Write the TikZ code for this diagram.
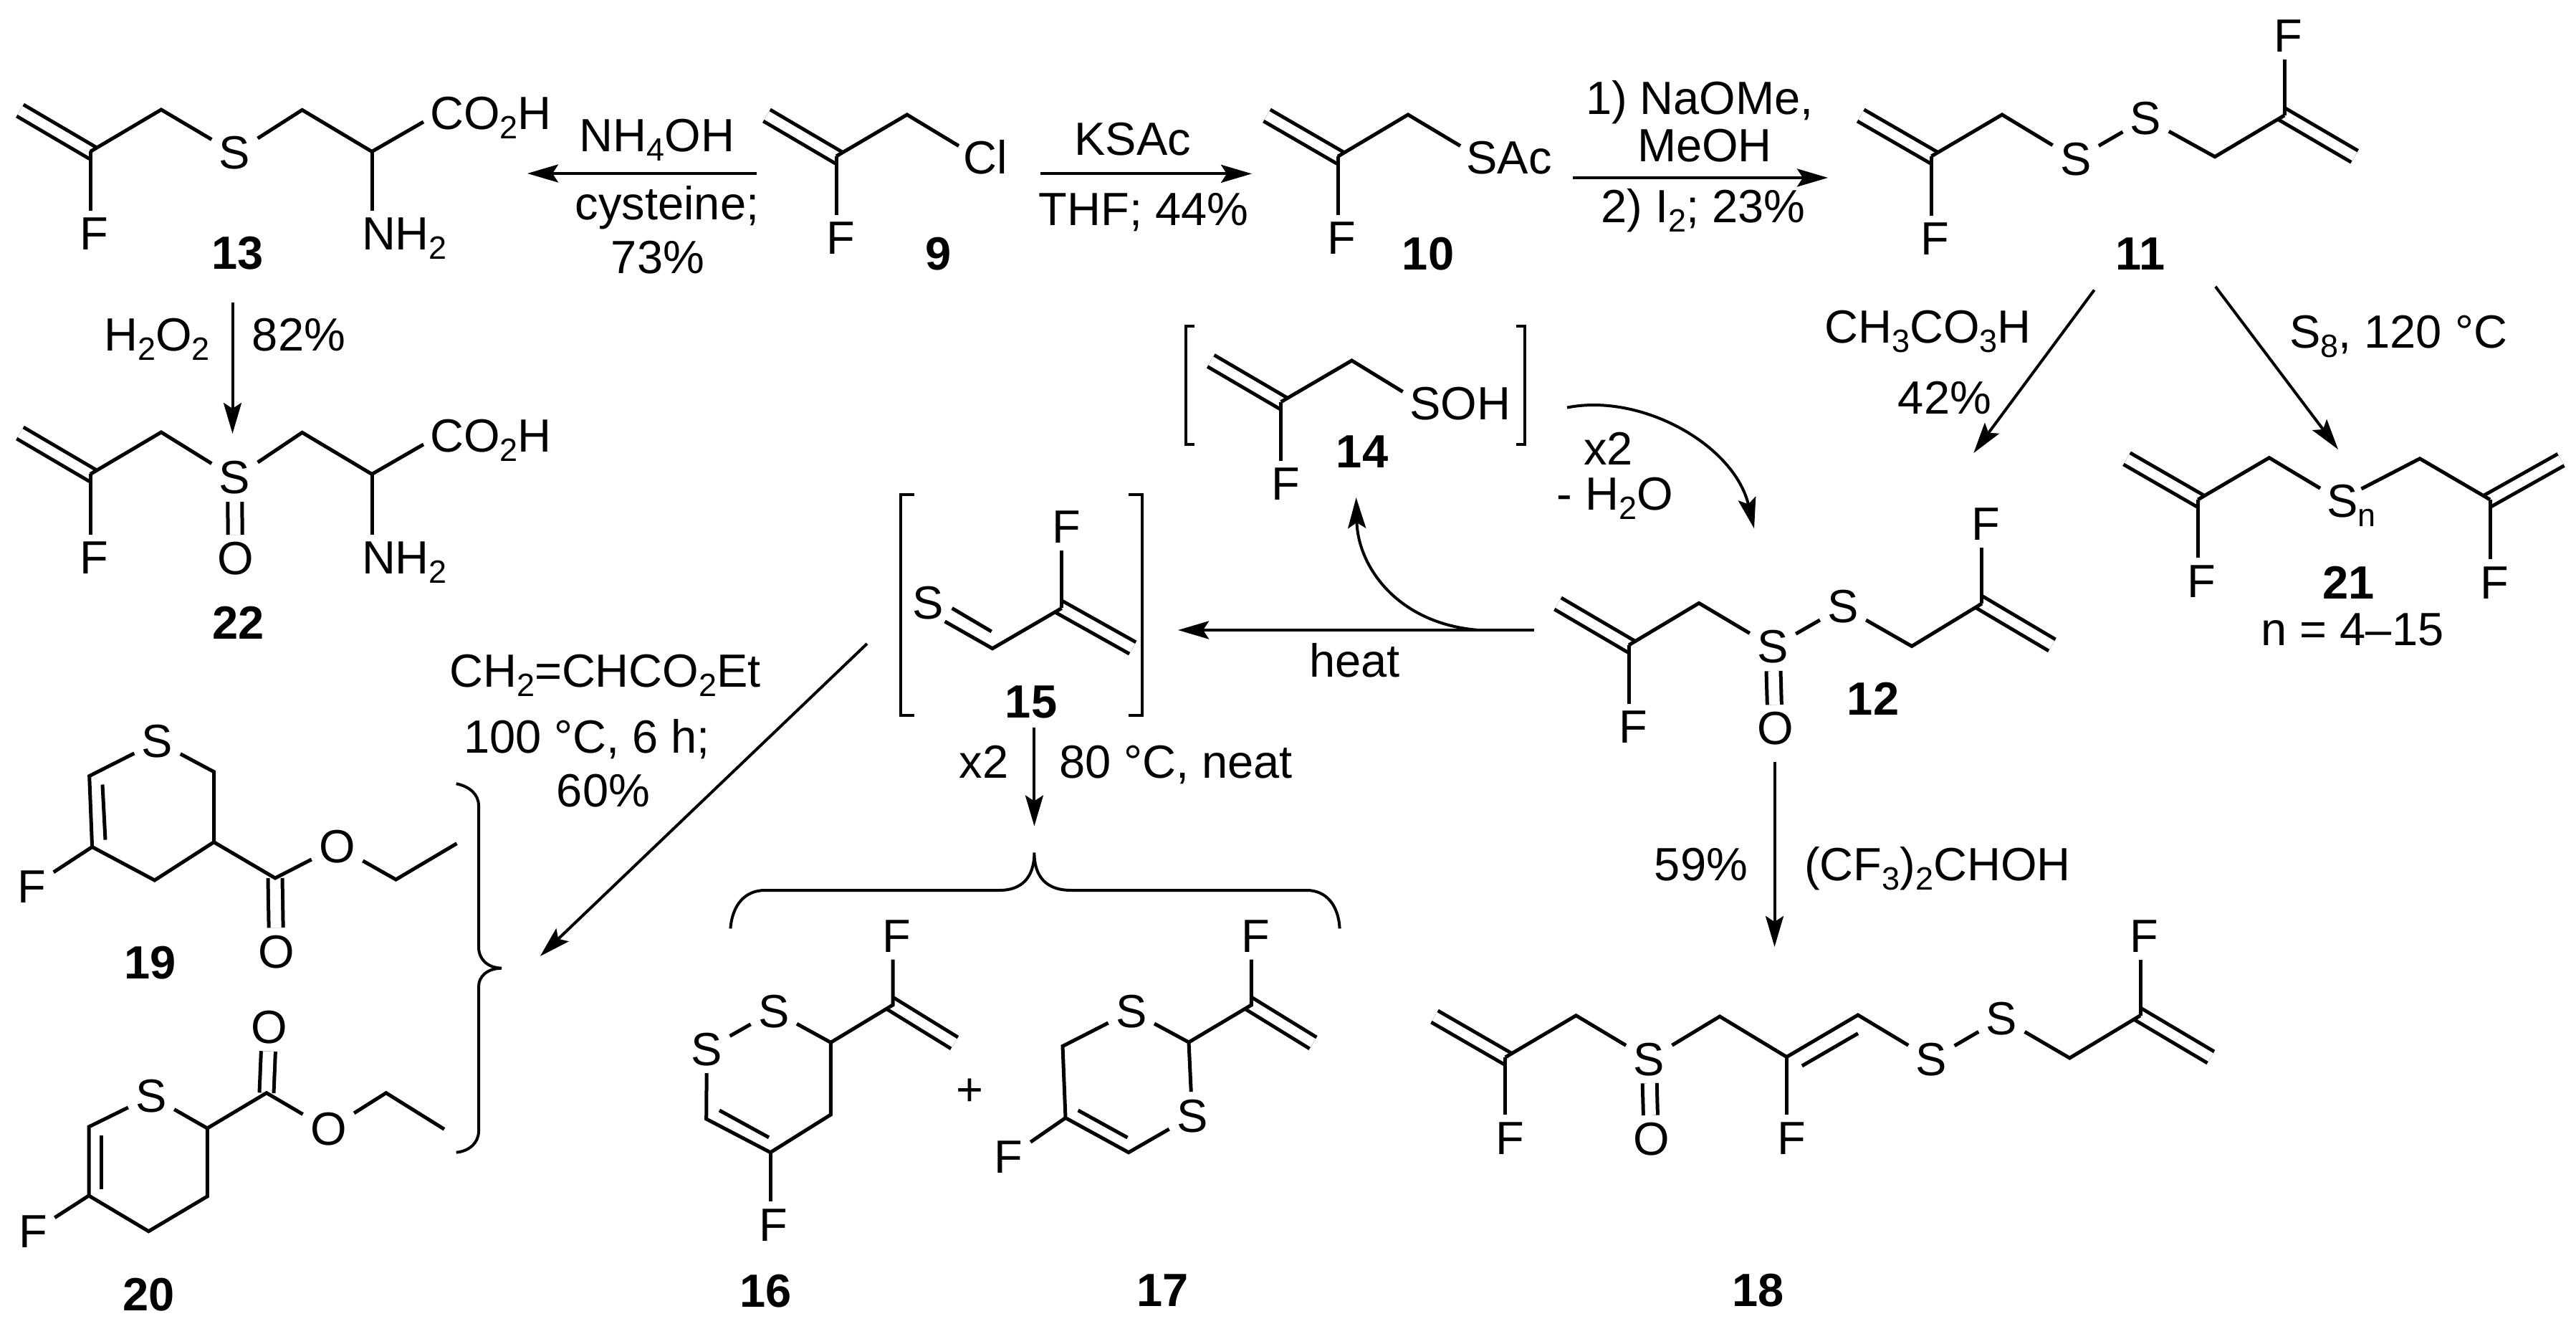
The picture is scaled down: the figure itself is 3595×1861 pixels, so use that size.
\documentclass[tikz,border=0pt]{standalone}
\usepackage{fontspec}
\setmainfont{Liberation Sans}
\usetikzlibrary{arrows.meta}
\newcommand{\chemsub}[1]{\raisebox{-0.2em}{\fontsize{9}{10}\selectfont #1}}
\tikzset{
  atom/.style={anchor=base,inner sep=1.6pt,font=\fontsize{13}{15}\selectfont},
  cmpd/.style={atom,font=\fontsize{13}{15}\selectfont\bfseries},
  dbl/.style={double,double distance=3pt},
  vinyl/.style={double,double distance=2.7pt,shorten >=-0.8pt},
  rxn/.style={line width=0.8pt,-{Stealth[length=8.6pt,width=5pt,inset=1.6pt]}},
  fence/.style={line width=0.8pt}
}
\begin{document}
\begin{tikzpicture}[x=0.2pt,y=-0.2pt,line width=1pt]
\useasboundingbox (0,0) rectangle (3595,1861);

\coordinate (e13) at (28,154); \coordinate (v13) at (126,211.5); \coordinate (a13) at (225,153);
\coordinate (b13) at (421.7,153.4); \coordinate (c13) at (519,211.5); \coordinate (k13) at (591,170);
\node[atom] (s13) at (327.5,236) {S};
\node[atom] (f13) at (131.6,349) {F};
\node[atom] (n13) at (564.5,349) {NH\chemsub{2}};
\node[atom] (h13) at (685,181) {CO\chemsub{2}H};
\node[cmpd] (l13) at (332,376) {13};
\draw[vinyl] (e13) -- (v13);
\draw (v13) -- (a13) -- (s13) -- (b13) -- (c13) -- (k13);
\draw (v13) -- (v13 |- f13.north);
\draw (c13) -- (c13 |- n13.north);

\coordinate (e22) at (28,604); \coordinate (v22) at (126,661.5); \coordinate (a22) at (225,603);
\coordinate (b22) at (421.7,603.4); \coordinate (c22) at (519,661.5); \coordinate (k22) at (591,620);
\node[atom] (s22) at (327.5,689) {S};
\node[atom] (o22) at (328.5,802) {O};
\node[atom] (f22) at (131.6,801) {F};
\node[atom] (n22) at (564.5,801) {NH\chemsub{2}};
\node[atom] (h22) at (685,631) {CO\chemsub{2}H};
\node[cmpd] (l22) at (332.5,892) {22};
\draw[vinyl] (e22) -- (v22);
\draw[dbl] (s22) -- (o22);
\draw (v22) -- (a22) -- (s22) -- (b22) -- (c22) -- (k22);
\draw (v22) -- (v22 |- f22.north);
\draw (c22) -- (c22 |- n22.north);

\coordinate (e9) at (1070,161); \coordinate (v9) at (1167,218); \coordinate (a9) at (1265.8,160); \coordinate (k9) at (1338,203.6);
\node[atom] (f9) at (1173,355) {F};
\node[atom] (h9) at (1375,242.4) {Cl};
\node[cmpd] (l9) at (1309.4,376.5) {9};
\draw[vinyl] (e9) -- (v9);
\draw (v9) -- (a9) -- (k9);
\draw (v9) -- (v9 |- f9.north);

\coordinate (e10) at (1768,161); \coordinate (v10) at (1867,218.3); \coordinate (a10) at (1965,160); \coordinate (k10) at (2038,203.6);
\node[atom] (f10) at (1872.5,355) {F};
\node[atom] (h10) at (2106,242.4) {SAc};
\node[cmpd] (l10) at (1993,376.5) {10};
\draw[vinyl] (e10) -- (v10);
\draw (v10) -- (a10) -- (k10);
\draw (v10) -- (v10 |- f10.north);

\coordinate (e11) at (2596.7,161); \coordinate (v11) at (2695.4,218); \coordinate (a11) at (2794,160);
\coordinate (b11) at (3091,218.7); \coordinate (w11) at (3188,161); \coordinate (d11) at (3286,218.3);
\node[atom] (s11) at (2896.7,244.4) {S};
\node[atom] (t11) at (2994.6,187.8) {S};
\node[atom] (f11) at (2700.8,356) {F};
\node[atom] (g11) at (3193,72.4) {F};
\node[cmpd] (l11) at (2987,376.4) {11};
\draw[vinyl] (e11) -- (v11);
\draw[vinyl] (d11) -- (w11);
\draw (v11) -- (a11) -- (s11) -- (t11) -- (b11) -- (w11);
\draw (v11) -- (v11 |- f11.north);
\draw (w11) -- (w11 |- g11.south);

\coordinate (e21) at (2968,639.8); \coordinate (v21) at (3067.3,697); \coordinate (a21) at (3166.8,638.6); \coordinate (k21) at (3238,681.3);
\coordinate (j21) at (3295.4,682); \coordinate (b21) at (3377,639.8); \coordinate (w21) at (3475,697); \coordinate (d21) at (3574,641.4);
\node[atom] (s21) at (3281.6,721.6) {S\chemsub{n}};
\node[atom] (f21) at (3072,833.5) {F};
\node[atom] (g21) at (3481.4,835.5) {F};
\node[cmpd] (l21) at (3277.8,835.5) {21};
\node[atom] (m21) at (3283,900.7) {n = 4–15};
\draw[vinyl] (e21) -- (v21);
\draw[vinyl] (d21) -- (w21);
\draw (v21) -- (a21) -- (k21);
\draw (j21) -- (b21) -- (w21);
\draw (v21) -- (v21 |- f21.north);
\draw (w21) -- (w21 |- g21.north);

\coordinate (e14) at (1689.8,503.4); \coordinate (v14) at (1787.7,560.7); \coordinate (a14) at (1886.5,503); \coordinate (k14) at (1957.6,546.5);
\node[atom] (f14) at (1794,698) {F};
\node[atom] (h14) at (2038,586) {SOH};
\node[cmpd] (l14) at (1901,652.8) {14};
\draw[vinyl] (e14) -- (v14);
\draw (v14) -- (a14) -- (k14);
\draw (v14) -- (v14 |- f14.north);
\draw[fence] (1667,455.5) -- (1655.3,455.5) -- (1655.3,620) -- (1667,620);
\draw[fence] (2116,455.5) -- (2127.6,455.5) -- (2127.6,620) -- (2116,620);

\coordinate (e12) at (2174,842); \coordinate (v12) at (2273,900); \coordinate (a12) at (2371,841.4);
\coordinate (b12) at (2668,901.5); \coordinate (w12) at (2765.8,842); \coordinate (d12) at (2863.8,900);
\node[atom] (s12) at (2474,925) {S};
\node[atom] (o12) at (2477.3,1039) {O};
\node[atom] (t12) at (2572,869) {S};
\node[atom] (f12) at (2279.8,1037) {F};
\node[atom] (g12) at (2771,753.6) {F};
\node[cmpd] (l12) at (2614,997.6) {12};
\draw[vinyl] (e12) -- (v12);
\draw[vinyl] (d12) -- (w12);
\draw[dbl] (s12) -- (o12);
\draw (v12) -- (a12) -- (s12) -- (t12) -- (b12) -- (w12);
\draw (v12) -- (v12 |- f12.north);
\draw (w12) -- (w12 |- g12.south);

\coordinate (e15) at (1580.7,904); \coordinate (v15) at (1481.6,848.5); \coordinate (c15) at (1385,904.7); \coordinate (j15) at (1318.6,867);
\coordinate (p15) at (1328.6,848.5); \coordinate (q15) at (1383.7,881);
\node[atom] (s15) at (1295,864) {S};
\node[atom] (f15) at (1488,758) {F};
\node[cmpd] (l15) at (1439,1001.6) {15};
\draw[vinyl] (e15) -- (v15);
\draw (v15) -- (c15) -- (j15);
\draw (p15) -- (q15);
\draw (v15) -- (v15 |- f15.south);
\draw[fence] (1276,690) -- (1257.4,690) -- (1257.4,997.6) -- (1276,997.6);
\draw[fence] (1575,690) -- (1594,690) -- (1594,997.6) -- (1575,997.6);

\coordinate (h19) at (124.7,1082.6); \coordinate (g19) at (128.6,1181.5); \coordinate (u19) at (215.8,1228);
\coordinate (c19) at (298.5,1174.8); \coordinate (r19) at (298.5,1076.7); \coordinate (q19) at (384,1225);
\coordinate (m19) at (552.5,1227); \coordinate (n19) at (637.5,1176.7);
\coordinate (p19) at (143,1094.5); \coordinate (i19) at (147,1171.6);
\node[atom] (s19) at (219.6,1057) {S};
\node[atom] (f19) at (44.4,1259) {F};
\node[atom] (o19) at (385.7,1350) {O};
\node[atom] (x19) at (470.6,1203) {O};
\node[cmpd] (l19) at (209.7,1365.7) {19};
\draw[dbl] (q19) -- (o19);
\draw (s19) -- (h19) -- (g19) -- (u19) -- (c19) -- (r19) -- (s19);
\draw (p19) -- (i19);
\draw (f19) -- (g19);
\draw (c19) -- (q19) -- (x19) -- (m19) -- (n19);

\coordinate (h20) at (124,1572); \coordinate (g20) at (124,1668); \coordinate (u20) at (207.4,1717.7);
\coordinate (r20) at (289.3,1669); \coordinate (c20) at (289.3,1574); \coordinate (q20) at (372,1524.7);
\coordinate (m20) at (538.8,1524.7); \coordinate (n20) at (620,1575.3);
\coordinate (p20) at (141.6,1584); \coordinate (i20) at (141.6,1659);
\node[atom] (s20) at (211,1551.6) {S};
\node[atom] (f20) at (46,1740.6) {F};
\node[atom] (o20) at (375.8,1455.5) {O};
\node[atom] (x20) at (458.4,1597.8) {O};
\node[cmpd] (l20) at (207.8,1828) {20};
\draw[dbl] (q20) -- (o20);
\draw (s20) -- (h20) -- (g20) -- (u20) -- (r20) -- (c20) -- (s20);
\draw (p20) -- (i20);
\draw (f20) -- (g20);
\draw (c20) -- (q20) -- (x20) -- (m20) -- (n20);

\coordinate (c16) at (1159.4,1454.3); \coordinate (w16) at (1246,1402); \coordinate (d16) at (1332,1455);
\coordinate (u16) at (1159.4,1555); \coordinate (g16) at (1075.2,1607.7); \coordinate (h16) at (985.7,1561);
\coordinate (p16) at (1004,1549); \coordinate (i16) at (1073,1586.8);
\node[atom] (s16) at (986.4,1486) {S};
\node[atom] (t16) at (1079.8,1433) {S};
\node[atom] (f16) at (1251.7,1328) {F};
\node[atom] (k16) at (1079.8,1731.5) {F};
\node[cmpd] (l16) at (1068.3,1823) {16};
\draw[vinyl] (d16) -- (w16);
\draw (s16) -- (t16) -- (c16) -- (u16) -- (g16) -- (h16) -- (s16);
\draw (p16) -- (i16);
\draw (c16) -- (w16) -- (w16 |- f16.south);
\draw (g16) -- (g16 |- k16.north);

\node[atom] (plus) at (1353,1542) {+};

\coordinate (c17) at (1659,1454); \coordinate (w17) at (1746.4,1402); \coordinate (d17) at (1832.5,1455);
\coordinate (r17) at (1483,1459.5); \coordinate (g17) at (1487,1559.5); \coordinate (h17) at (1575,1607.7);
\coordinate (p17) at (1504.6,1549); \coordinate (i17) at (1573.5,1587);
\node[atom] (s17) at (1578.8,1433) {S};
\node[atom] (t17) at (1663.8,1579) {S};
\node[atom] (f17) at (1752,1328) {F};
\node[atom] (k17) at (1407.8,1636.6) {F};
\node[cmpd] (l17) at (1622.8,1822) {17};
\draw[vinyl] (d17) -- (w17);
\draw (s17) -- (c17) -- (t17) -- (h17) -- (g17) -- (r17) -- (s17);
\draw (p17) -- (i17);
\draw (c17) -- (w17) -- (w17 |- f17.south);
\draw (k17) -- (g17);

\coordinate (e18) at (2002,1418); \coordinate (v18) at (2100.7,1475); \coordinate (a18) at (2199.5,1416.7);
\coordinate (b18) at (2400,1418); \coordinate (g18) at (2493.4,1474.5); \coordinate (h18) at (2592.9,1416);
\coordinate (p18) at (2514.8,1487); \coordinate (i18) at (2592.9,1441.7);
\coordinate (r18) at (2888.3,1476); \coordinate (w18) at (2987,1416.7); \coordinate (d18) at (3085.3,1475);
\node[atom] (s18) at (2301.3,1500) {S};
\node[atom] (o18) at (2304.3,1611.7) {O};
\node[atom] (t18) at (2695.4,1500) {S};
\node[atom] (y18) at (2793.4,1443) {S};
\node[atom] (f18) at (2107,1610.5) {F};
\node[atom] (k18) at (2499.9,1610.5) {F};
\node[atom] (z18) at (2992.3,1328) {F};
\node[cmpd] (l18) at (2453.6,1822) {18};
\draw[vinyl] (e18) -- (v18);
\draw[vinyl] (d18) -- (w18);
\draw[dbl] (s18) -- (o18);
\draw (v18) -- (a18) -- (s18) -- (b18) -- (g18) -- (h18) -- (t18) -- (y18) -- (r18) -- (w18);
\draw (p18) -- (i18);
\draw (v18) -- (v18 |- f18.north);
\draw (g18) -- (g18 |- k18.north);
\draw (w18) -- (w18 |- z18.south);

\coordinate (r1a) at (1056,242); \coordinate (r1b) at (736,242);
\draw[rxn] (r1a) -- (r1b);
\node[atom] (r1t) at (917,211.5) {NH\chemsub{4}OH};
\node[atom] (r1u) at (931,306.5) {cysteine;};
\node[atom] (r1v) at (918,381.6) {73\%};

\coordinate (r2a) at (1452,242.4); \coordinate (r2b) at (1747,242.4);
\draw[rxn] (r2a) -- (r2b);
\node[atom] (r2t) at (1580.7,216.7) {KSAc};
\node[atom] (r2u) at (1596,314.4) {THF; 44\%};

\coordinate (r3a) at (2195,248); \coordinate (r3b) at (2551,248);
\draw[rxn] (r3a) -- (r3b);
\node[atom] (r3t) at (2372,159.4) {1) NaOMe,};
\node[atom] (r3u) at (2379,226) {MeOH};
\node[atom] (r3v) at (2377,310.4) {2) I\chemsub{2}; 23\%};

\coordinate (r4a) at (324.5,422); \coordinate (r4b) at (324.5,605);
\draw[rxn] (r4a) -- (r4b);
\node[atom] (r4t) at (219,489.5) {H\chemsub{2}O\chemsub{2}};
\node[atom] (r4u) at (417,489.5) {82\%};

\coordinate (r5a) at (2922.7,404.5); \coordinate (r5b) at (2754.3,632);
\draw[rxn] (r5a) -- (r5b);
\node[atom] (r5t) at (2690.5,479) {CH\chemsub{3}CO\chemsub{3}H};
\node[atom] (r5u) at (2714,578) {42\%};

\coordinate (r6a) at (3091.8,399.8); \coordinate (r6b) at (3263,627);
\draw[rxn] (r6a) -- (r6b);
\node[atom] (r6t) at (3347,485.6) {S\chemsub{8}, 120 °C};

\coordinate (r7a) at (2187,568.6); \coordinate (r7b) at (2448,737.4);
\draw[rxn] (r7a) .. controls (2290,548) and (2420,620) .. (r7b);
\node[atom] (r7t) at (2244.6,648.5) {x2};
\node[atom] (r7u) at (2254,711.7) {- H\chemsub{2}O};

\coordinate (r8a) at (2141,879); \coordinate (r8b) at (1644,879);
\draw[rxn] (r8a) -- (r8b);
\node[atom] (r8t) at (1890.7,945) {heat};

\coordinate (r9a) at (2063,879); \coordinate (r9b) at (1892.6,694);
\draw[rxn] (r9a) .. controls (1950,870) and (1895,790) .. (r9b);

\coordinate (r10a) at (2476.5,1062.9); \coordinate (r10b) at (2476.5,1321);
\draw[rxn] (r10a) -- (r10b);
\node[atom] (r10t) at (2374,1228) {59\%};
\node[atom] (r10u) at (2704,1228) {(CF\chemsub{3})\chemsub{2}CHOH};

\coordinate (r11a) at (1443.4,1014.6); \coordinate (r11b) at (1443.4,1152.6);
\draw[rxn] (r11a) -- (r11b);
\node[atom] (r11t) at (1373,1085.4) {x2};
\node[atom] (r11u) at (1641,1085.4) {80 °C, neat};

\coordinate (r12a) at (1210,898); \coordinate (r12b) at (753.8,1334);
\draw[rxn] (r12a) -- (r12b);
\node[atom] (r12t) at (844.5,959) {CH\chemsub{2}=CHCO\chemsub{2}Et};
\node[atom] (r12u) at (819,1051) {100 °C, 6 h;};
\node[atom] (r12v) at (842,1126) {60\%};

\draw[fence] (1019.4,1295.4) .. controls (1022,1262) and (1040,1242) .. (1067.6,1242) -- (1395,1242)
  .. controls (1425,1242) and (1443.4,1225) .. (1443.4,1189.4)
  .. controls (1443.4,1225) and (1462,1242) .. (1494.6,1242) -- (1823.7,1242)
  .. controls (1850,1242) and (1868,1262) .. (1869.6,1295.4);
\draw[fence] (636.7,1093.3) .. controls (655,1097) and (668,1108) .. (668,1124) -- (668,1321)
  .. controls (668,1338) and (680,1350) .. (700,1350.7)
  .. controls (680,1351) and (668,1362) .. (668,1376.4) -- (668,1578)
  .. controls (668,1594) and (655,1606) .. (636.7,1607.7);
\end{tikzpicture}
\end{document}
